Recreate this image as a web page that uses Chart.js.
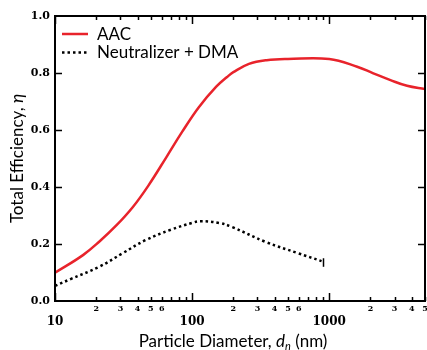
<!DOCTYPE html>
<html>
<head>
<meta charset="utf-8">
<script src="https://cdn.jsdelivr.net/npm/chart.js@4.4.1/dist/chart.umd.min.js"></script>
<style>
  html, body { margin: 0; padding: 0; background: #fff; }
  #wrap { width: 427px; height: 350px; }
</style>
</head>
<body>
<div id="wrap"><canvas id="chart"></canvas></div>
<script>
// values (diameter in nm, efficiency 0..1)
const aacDiam = [10, 16, 21, 28, 37, 48, 65, 85, 112, 150, 180, 200, 260, 350, 500, 1000, 1600, 2100, 2800, 3700, 5000];
const aacEff = [0.099, 0.161, 0.208, 0.265, 0.33, 0.405, 0.505, 0.595, 0.68, 0.752, 0.786, 0.803, 0.832, 0.845, 0.849, 0.849, 0.822, 0.799, 0.775, 0.755, 0.744];

const dmaDiam = [10, 13, 21, 31, 46, 70, 100, 115, 157, 195, 345, 590, 880];
const dmaEff = [0.053, 0.077, 0.12, 0.167, 0.214, 0.25, 0.274, 0.28, 0.274, 0.26, 0.207, 0.168, 0.14];

// error bar at the last DMA point
const dmaErrAt = 905;
const dmaErrLow = 0.12;
const dmaErrHigh = 0.15;

const xMajorTicks = [10, 100, 1000];
const xMinorTicks = [20, 30, 40, 50, 60, 70, 80, 90, 200, 300, 400, 500, 600, 700, 800, 900, 2000, 3000, 4000, 5000];
const xMinorLabels = [20, 30, 40, 50, 60, 200, 300, 400, 500, 600, 2000, 3000, 4000, 5000];
const yTicks = [0.2, 0.4, 0.6, 0.8];

const seriesNames = ["AAC", "Neutralizer + DMA"];
const RED = "#e8232b";

const SANS = "Lato, 'DejaVu Sans', sans-serif";
const SERIF = "'DejaVu Serif', 'Liberation Serif', serif";

function toPoints(xs, ys) {
  return xs.map((x, i) => ({ x: x, y: ys[i] }));
}

// draw a string made of pieces with different fonts, starting at x
function drawPieces(ctx, pieces, x, y) {
  pieces.forEach((p) => {
    ctx.font = p.font;
    ctx.fillText(p.text, x, y + (p.dy || 0));
    x += ctx.measureText(p.text).width;
  });
}

function piecesWidth(ctx, pieces) {
  let w = 0;
  pieces.forEach((p) => {
    ctx.font = p.font;
    w += ctx.measureText(p.text).width;
  });
  return w;
}

const framePlugin = {
  id: "frame",
  afterDraw(chart) {
    const ctx = chart.ctx;
    const xs = chart.scales.x;
    const ys = chart.scales.y;
    const a = chart.chartArea;
    ctx.save();
    ctx.strokeStyle = "#000";
    ctx.fillStyle = "#000";

    // error bar
    const ex = Math.round(xs.getPixelForValue(dmaErrAt)) + 0.5;
    ctx.lineWidth = 1.5;
    ctx.beginPath();
    ctx.moveTo(ex, ys.getPixelForValue(dmaErrLow));
    ctx.lineTo(ex, ys.getPixelForValue(dmaErrHigh));
    ctx.stroke();

    // frame
    ctx.lineWidth = 2;
    ctx.strokeRect(a.left, a.top, a.right - a.left, a.bottom - a.top);

    // inward ticks
    ctx.lineWidth = 1.5;
    ctx.beginPath();
    xMajorTicks.concat(xMinorTicks).forEach((v) => {
      const len = xMajorTicks.includes(v) ? 8 : 4;
      const px = Math.round(xs.getPixelForValue(v)) + 0.5;
      ctx.moveTo(px, a.bottom);
      ctx.lineTo(px, a.bottom - len);
      ctx.moveTo(px, a.top);
      ctx.lineTo(px, a.top + len);
    });
    yTicks.forEach((v) => {
      const py = Math.round(ys.getPixelForValue(v)) + 0.5;
      ctx.moveTo(a.left, py);
      ctx.lineTo(a.left + 7, py);
      ctx.moveTo(a.right, py);
      ctx.lineTo(a.right - 7, py);
    });
    ctx.stroke();

    // x tick labels
    ctx.textAlign = "center";
    ctx.textBaseline = "middle";
    ctx.font = "bold 8px " + SERIF;
    xMinorLabels.forEach((v) => {
      ctx.fillText(String(v).charAt(0), xs.getPixelForValue(v), a.bottom + 8);
    });
    ctx.font = "bold 12px " + SERIF;
    xMajorTicks.forEach((v) => {
      ctx.fillText(String(v), xs.getPixelForValue(v), a.bottom + 21);
    });

    // x title
    ctx.textAlign = "left";
    ctx.textBaseline = "alphabetic";
    const fs = 17;
    const xt = [
      { text: "Particle Diameter, ", font: fs + "px " + SANS },
      { text: "d", font: "italic " + fs + "px " + SANS },
      { text: "n", font: "italic " + Math.round(fs * 0.65) + "px " + SANS, dy: 3 },
      { text: " (nm)", font: fs + "px " + SANS }
    ];
    drawPieces(ctx, xt, 233 - piecesWidth(ctx, xt) / 2, 347);

    // y title
    const yt = [
      { text: "Total Efficiency, ", font: fs + "px " + SANS },
      { text: "\u03b7", font: "italic " + fs + "px " + SANS }
    ];
    ctx.save();
    ctx.translate(23, (a.top + a.bottom) / 2);
    ctx.rotate(-Math.PI / 2);
    drawPieces(ctx, yt, -piecesWidth(ctx, yt) / 2, 0);
    ctx.restore();

    // legend
    ctx.lineWidth = 2.5;
    ctx.strokeStyle = RED;
    ctx.beginPath();
    ctx.moveTo(62, 34);
    ctx.lineTo(88, 34);
    ctx.stroke();
    ctx.strokeStyle = "#000";
    ctx.setLineDash([2.5, 3]);
    ctx.beginPath();
    ctx.moveTo(62, 52.5);
    ctx.lineTo(88, 52.5);
    ctx.stroke();
    ctx.setLineDash([]);
    ctx.font = fs + "px " + SANS;
    ctx.fillText(seriesNames[0], 97, 39.5);
    ctx.fillText(seriesNames[1], 97, 57.5);

    ctx.restore();
  }
};

new Chart(document.getElementById("chart"), {
  type: "line",
  data: {
    datasets: [
      {
        label: seriesNames[0],
        data: toPoints(aacDiam, aacEff),
        borderColor: RED,
        borderWidth: 2.5,
        pointRadius: 0,
        tension: 0.4
      },
      {
        label: seriesNames[1],
        data: toPoints(dmaDiam, dmaEff),
        borderColor: "#000",
        borderWidth: 2.5,
        borderDash: [2.5, 3],
        borderCapStyle: "butt",
        pointRadius: 0,
        tension: 0.4
      }
    ]
  },
  options: {
    responsive: true,
    maintainAspectRatio: false,
    animation: false,
    devicePixelRatio: 1,
    layout: { padding: { top: 16, right: 2, left: 0, bottom: 0 } },
    plugins: { legend: { display: false }, tooltip: { enabled: false } },
    scales: {
      x: {
        type: "logarithmic",
        min: 10,
        max: 5000,
        grid: { display: false, drawTicks: false },
        border: { display: false },
        ticks: { display: false },
        afterFit: (s) => { s.height = 49; }
      },
      y: {
        min: 0,
        max: 1,
        grid: { display: false, drawTicks: false },
        border: { display: false },
        ticks: {
          stepSize: 0.2,
          padding: 5,
          color: "#000",
          font: { family: SERIF, size: 11, weight: "bold" },
          callback: (v) => v.toFixed(1)
        },
        afterFit: (s) => { s.width = 55; }
      }
    }
  },
  plugins: [framePlugin]
});
</script>
</body>
</html>
